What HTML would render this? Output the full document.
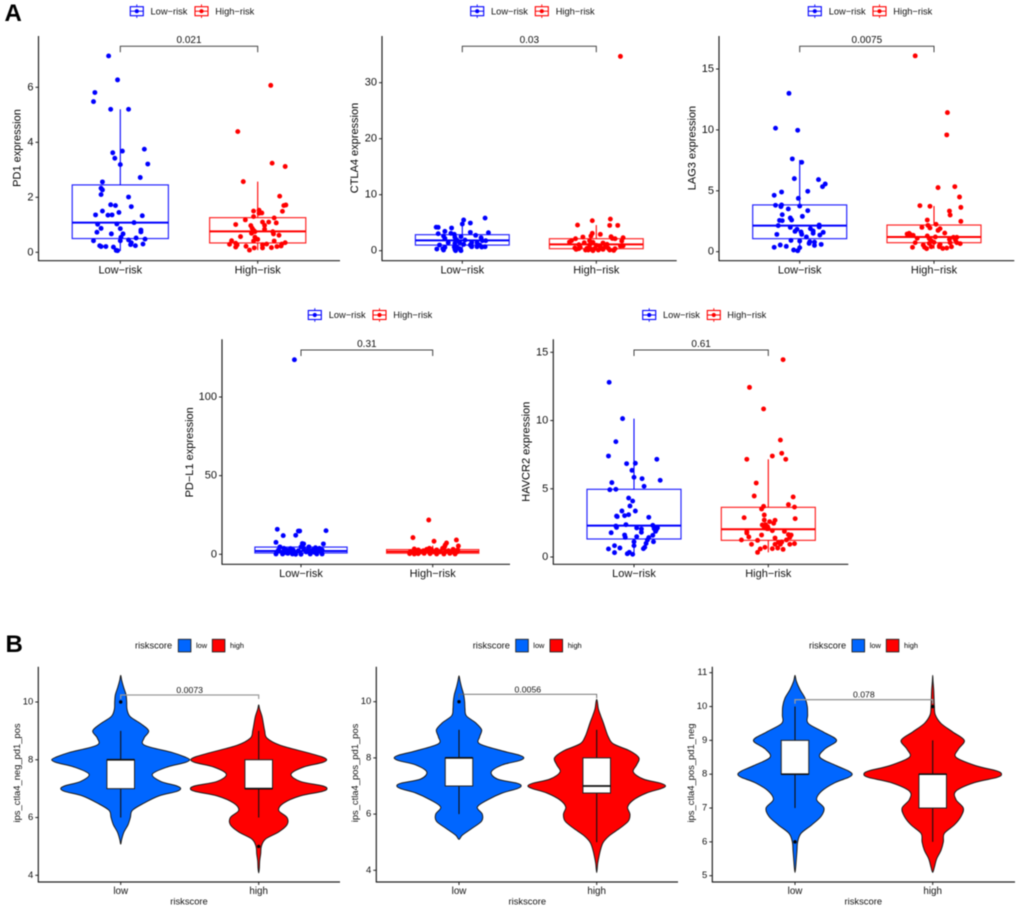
<!DOCTYPE html>
<html lang="en">
<head>
<meta charset="utf-8">
<title>Immune checkpoint expression by risk group</title>
<style>
  html, body { margin: 0; padding: 0; background: #fff; }
  #figure { display: block; width: 1020px; height: 909px; filter: blur(0.45px); font-family: "Liberation Sans", sans-serif; }
  .leg { font-size: 9.3px; fill: #111; dominant-baseline: central; }
  .ytitle { font-size: 11px; fill: #000; text-anchor: middle; dominant-baseline: central; }
  .ytitle-b { font-size: 9.4px; fill: #111; text-anchor: middle; dominant-baseline: central; }
  .xtitle-b { font-size: 9.4px; fill: #111; text-anchor: middle; dominant-baseline: central; }
  .legb { font-size: 9.3px; fill: #111; dominant-baseline: central; }
  .legs { font-size: 7.4px; fill: #000; dominant-baseline: central; }
  .letter { font-size: 24px; font-weight: bold; fill: #000; }
</style>
</head>
<body>
<svg id="figure" xmlns="http://www.w3.org/2000/svg" width="1020" height="909" viewBox="0 0 1020 909">
  <defs>
    <g id="key-blue">
      <line x1="6.5" y1="-2.3" x2="6.5" y2="11.3" stroke="#0000ff" stroke-width="0.9"/>
      <rect x="0" y="0" width="13" height="9" fill="#fff" stroke="#0000ff" stroke-width="1.1"/>
      <line x1="0" y1="4.5" x2="13" y2="4.5" stroke="#0000ff" stroke-width="1"/>
      <circle cx="6.5" cy="4.5" r="2.1" fill="#0000ff"/>
    </g>
    <g id="key-red">
      <line x1="6.5" y1="-2.3" x2="6.5" y2="11.3" stroke="#ff0000" stroke-width="0.9"/>
      <rect x="0" y="0" width="13" height="9" fill="#fff" stroke="#ff0000" stroke-width="1.1"/>
      <line x1="0" y1="4.5" x2="13" y2="4.5" stroke="#ff0000" stroke-width="1"/>
      <circle cx="6.5" cy="4.5" r="2.1" fill="#ff0000"/>
    </g>
  </defs>

  <text class="letter" x="4.5" y="20.9">A</text>
  <text class="letter" x="5.5" y="651.9">B</text>

  <g>
    <use href="#key-blue" x="130.3" y="6.7"/>
    <text class="leg" x="150.5" y="11.5">Low−risk</text>
    <use href="#key-red" x="195" y="6.7"/>
    <text class="leg" x="215.3" y="11.5">High−risk</text>
  </g>
  <g>
    <use href="#key-blue" x="470.7" y="6.7"/>
    <text class="leg" x="491" y="11.5">Low−risk</text>
    <use href="#key-red" x="535.3" y="6.7"/>
    <text class="leg" x="555.7" y="11.5">High−risk</text>
  </g>
  <g>
    <use href="#key-blue" x="808.3" y="6.7"/>
    <text class="leg" x="828.7" y="11.5">Low−risk</text>
    <use href="#key-red" x="873" y="6.7"/>
    <text class="leg" x="893.3" y="11.5">High−risk</text>
  </g>
  <g>
    <use href="#key-blue" x="308.3" y="310.5"/>
    <text class="leg" x="328.7" y="315">Low−risk</text>
    <use href="#key-red" x="373" y="310.5"/>
    <text class="leg" x="393.3" y="315">High−risk</text>
  </g>
  <g>
    <use href="#key-blue" x="642.7" y="310.5"/>
    <text class="leg" x="663" y="315">Low−risk</text>
    <use href="#key-red" x="707.3" y="310.5"/>
    <text class="leg" x="727.3" y="315">High−risk</text>
  </g>

  <g>
    <text class="legb" x="135" y="645.7">riskscore</text>
    <rect x="178.3" y="639.3" width="12.6" height="12.6" fill="#0066ff" stroke="#222" stroke-width="0.9"/>
    <text class="legs" x="196" y="645.7">low</text>
    <rect x="212.3" y="639.3" width="12.6" height="12.6" fill="#ff0000" stroke="#222" stroke-width="0.9"/>
    <text class="legs" x="230" y="645.7">high</text>
  </g>
  <g>
    <text class="legb" x="472.7" y="645.7">riskscore</text>
    <rect x="515.7" y="639.3" width="12.6" height="12.6" fill="#0066ff" stroke="#222" stroke-width="0.9"/>
    <text class="legs" x="533.3" y="645.7">low</text>
    <rect x="550" y="639.3" width="12.6" height="12.6" fill="#ff0000" stroke="#222" stroke-width="0.9"/>
    <text class="legs" x="567.7" y="645.7">high</text>
  </g>
  <g>
    <text class="legb" x="809" y="645.7">riskscore</text>
    <rect x="852" y="639.3" width="12.6" height="12.6" fill="#0066ff" stroke="#222" stroke-width="0.9"/>
    <text class="legs" x="869.7" y="645.7">low</text>
    <rect x="886.3" y="639.3" width="12.6" height="12.6" fill="#ff0000" stroke="#222" stroke-width="0.9"/>
    <text class="legs" x="904" y="645.7">high</text>
  </g>

  <text class="ytitle" transform="rotate(-90 17.5 148)" x="17.5" y="148">PD1 expression</text>
  <text class="ytitle" transform="rotate(-90 355 148)" x="355" y="148">CTLA4 expression</text>
  <text class="ytitle" transform="rotate(-90 692.7 148)" x="692.7" y="148">LAG3 expression</text>
  <text class="ytitle" transform="rotate(-90 190 452.3)" x="190" y="452.3">PD−L1 expression</text>
  <text class="ytitle" transform="rotate(-90 526.7 451.7)" x="526.7" y="451.7">HAVCR2 expression</text>

  <text class="ytitle-b" transform="rotate(-90 16.7 773)" x="16.7" y="773">ips_ctla4_neg_pd1_pos</text>
  <text class="ytitle-b" transform="rotate(-90 354.7 773)" x="354.7" y="773">ips_ctla4_pos_pd1_pos</text>
  <text class="ytitle-b" transform="rotate(-90 690.7 773)" x="690.7" y="773">ips_ctla4_pos_pd1_neg</text>
  <text class="xtitle-b" x="189" y="901">riskscore</text>
  <text class="xtitle-b" x="527.3" y="901">riskscore</text>
  <text class="xtitle-b" x="863.3" y="901">riskscore</text>

  <g id="marks"></g>
</svg>

<script>
// ---------- Category and tick labels ----------
const boxCategories = ['Low−risk', 'High−risk'];
const violinCategories = ['low', 'high'];
const pd1Ticks = [0, 2, 4, 6];
const ctla4Ticks = [0, 10, 20, 30];
const lag3Ticks = [0, 5, 10, 15];
const pdl1Ticks = [0, 50, 100];
const havcr2Ticks = [0, 5, 10, 15];
const violin1Ticks = [4, 6, 8, 10];
const violin2Ticks = [4, 6, 8, 10];
const violin3Ticks = [5, 6, 7, 8, 9, 10, 11];

// ---------- P values ----------
const pd1P = '0.021';
const ctla4P = '0.03';
const lag3P = '0.0075';
const pdl1P = '0.31';
const havcr2P = '0.61';
const violin1P = '0.0073';
const violin2P = '0.0056';
const violin3P = '0.078';

// ---------- Box statistics: [whisker low, q1, median, q3, whisker high] ----------
const pd1LowBox = [0.05, 0.5, 1.08, 2.45, 5.2];
const pd1HighBox = [0.08, 0.34, 0.76, 1.26, 2.57];
const ctla4LowBox = [0, 1.0, 1.85, 2.86, 4.76];
const ctla4HighBox = [0, 0.36, 1.13, 2.14, 4.58];
const lag3LowBox = [0.08, 1.07, 2.14, 3.84, 7.53];
const lag3HighBox = [0.25, 0.74, 1.21, 2.19, 3.75];
const pdl1LowBox = [0, 0.85, 2.1, 4.6, 8];
const pdl1HighBox = [0.2, 0.7, 1.7, 3, 5.5];
const havcr2LowBox = [0.2, 1.32, 2.3, 4.96, 10.14];
const havcr2HighBox = [0.34, 1.22, 2.03, 3.64, 7.16];

// ---------- Expression values, with horizontal jitter in hundredths of a category step ----------
const pd1LowValues = [7.14,6.27,5.81,5.48,5.2,5.2,3.75,3.62,3.68,3.42,3.19,3.21,2.72,2.56,2.33,2.27,2.10,2.01,1.73,1.70,1.66,1.50,1.45,1.36,1.35,1.36,1.33,1.08,1.02,1.03,0.87,0.86,0.73,0.81,0.74,0.67,0.67,0.55,0.52,0.48,0.42,0.42,0.45,0.35,0.28,0.30,0.24,0.24,0.21,0.21,0.19,0.07,0.06];
const pd1LowJitter = [-8.5,-2,-18.5,-19.5,-7,6,17.5,-5.5,1.5,-4,0,20,14.5,-13,-14,-13,-14,6,-7,-3.5,8,-13,-1,-18,-9,-6,16,10,-16.5,-2.5,-14,0,-17,15,15,-6.5,2,0.5,11.5,18,-19.5,0,6,8,7.5,16.5,11,-15,-14,-10.5,-5,-3,-2];
const pd1HighValues = [6.07,4.39,3.24,3.12,2.57,2.04,1.70,1.72,1.49,1.50,1.53,1.43,1.42,1.30,1.25,1.18,1.10,1.10,1.07,1.01,0.97,0.98,0.87,0.84,0.80,0.75,0.75,0.69,0.67,0.62,0.57,0.55,0.47,0.41,0.41,0.42,0.33,0.29,0.35,0.30,0.30,0.27,0.27,0.19,0.22,0.23,0.21,0.16,0.16,0.17,0.08];
const pd1HighJitter = [9.5,-14.5,10.5,20,-10.5,16,19,20.5,18,-3,1,3,1,-3,12,-9,3.5,8,13.5,-16,-5,5,-4,5,-3,-2,11,-4.5,11.5,15.5,-12.5,-2,0,-3,12,-19,-16,-20.5,20,17.5,6.5,3.5,-15,-16,-8.5,17,14,-2.5,3.5,10,-6];

const ctla4LowValues = [5.83,5.48,4.76,4.94,4.2,4.17,4.05,3.45,3.21,3.27,3.04,3.1,2.92,2.74,2.62,2.38,2.5,2.32,2.2,1.9,1.9,1.79,1.79,1.43,1.49,1.43,1.43,1.31,1.13,1.01,1.01,1.01,0.71,0.65,0.71,0.71,0.65,0.6,0.6,0.3,0.36,0.12,0.24,0.36,0,0];
const ctla4LowJitter = [17,1,0,6,-19.5,-18,-8,-13,19.5,6,-18,-8.5,-6,10,-14,-5.5,-1,14,-13,-4,2,17.5,15,-10.5,-2,7,11,-5.5,1,-17,6,13,17,14.5,7,11,-6,-4,-13,-19,-14.5,-14,-5.5,-2,-5,-1];
const ctla4HighValues = [34.7,5.65,5.36,4.58,4.52,4.52,3.1,2.92,2.62,2.44,2.5,2.32,2.14,2.14,2.2,1.79,1.55,1.79,1.73,1.43,1.49,1.37,1.07,1.01,0.95,1.13,0.89,0.83,0.71,0.65,0.6,0.48,0.36,0.42,0.42,0.3,0.36,0.42,0.36,0.12,0.06,0.12,0,0.12,0.24,0.12,0.24];
const ctla4HighJitter = [18,10.5,-3,-14,10,16,-3,3,-4,-10,11,20,-15.5,14,12,-18.5,-20,-5,19,-9,-2.5,5,-13,-5,0,8,20,18,3,6.5,-12,-16,-13,-7,-1,-4,4,9,14,10,13,-8,-2.5,1.5,5,-6,-15];

const lag3LowValues = [13.0,10.14,9.97,7.62,7.34,6.0,5.92,5.56,5.34,4.9,4.96,4.63,4.38,3.81,3.84,3.70,3.75,3.51,3.37,3.04,2.9,2.77,2.6,2.57,2.55,2.19,2.14,2.03,2.0,1.89,1.84,1.67,1.7,1.62,1.59,1.51,1.42,1.42,1.37,1.21,0.93,0.88,0.79,0.82,0.68,0.52,0.6,0.55,0.36,0.44,0.33,0.14,0.08];
const lag3LowJitter = [-8,-18,-1.5,-5.5,1.5,-4,14,19,17,-13.5,6,-19,-1,-18,-13.5,-14,0,-8.5,6,-13,2,-7,-6,-15,-13,14.5,-16,14.5,-7,8,-2,-3.5,10,1,17.5,10,1.5,-17,15,5,-6.5,0,11,7.5,7,11,16,-14.5,-19,-10,0,-4.5,-1.5];
const lag3HighValues = [16.08,11.42,9.59,5.26,5.34,4.49,3.78,3.73,3.64,3.34,3.01,2.49,2.6,2.25,2.0,2.16,1.95,1.89,1.75,1.53,1.45,1.51,1.4,1.34,1.1,1.29,1.21,1.18,1.18,1.07,1.01,0.9,0.96,0.77,0.74,0.68,0.55,0.6,0.74,0.66,0.74,0.36,0.36,0.41,0.41,0.41,0.25,0.27,0.3,0.49];
const lag3HighJitter = [-14,10,9.5,3,15.5,19,-10.5,-3,20,11.5,12,20,-5,1.5,-9,-4.5,-3,4.5,3,8,-20,-18.5,-17.5,-15.5,-12.5,-5,1,14.5,17,-3.5,11.5,-2,16,0,-14,-3.5,-8,4.5,12,19.5,17,-16,-7,-2,4,13,-5.5,6.5,9.5,4];

const pdl1LowValues = [123.7,15.9,14.8,14.8,15,11.9,12.1,7.6,6.8,6.6,6.6,4.7,3.8,3.6,4.7,4.2,3.8,4.7,3.8,3.2,2.8,2.8,2.8,2.3,2.8,2.3,2.8,1.7,1.3,1.1,1.3,1.3,1.5,1.1,1.3,1.3,0.2,0.2,0.2,0,0.2,0.2,0.2,0,0.6];
const pdl1LowJitter = [-5,-18,-2,-1,19,-13.5,-4,-19,1,2,17,-16,-13,-8,6,11,14,0,2,5.5,-17,-11,-6,-2,9,13,16,-18,-14.5,-12,-9,-4.5,4,7,10,15.5,-19,-14,-6.5,0,7,12,16,-4,-10];
const pdl1HighValues = [21.8,10.6,8.3,9.1,7.2,5.9,5.3,3.4,3.8,3.2,3.2,3.8,4.7,2.8,2.8,3.2,2.3,2.3,2.8,1.7,1.7,1.5,1.7,1.5,1.5,1.7,1.5,1.5,0.4,0.2,0.4,0.6,0.4,0.2,0.2,0.6,0.2];
const pdl1HighJitter = [-3,-15,1,18,10.5,9.5,19.5,-14,-2.5,-4.5,-1,7.5,9,-11,3,15.5,-7,12,19,-17,-12,-9,-3,0.5,5.5,10,15,18.5,-17.5,-14,-11,-6.5,-2,3,8.5,13,17];

const havcr2LowValues = [12.8,10.14,8.45,7.4,7.16,6.84,6.87,6.35,5.84,5.74,5.62,5.45,5.18,4.93,4.96,4.32,4.1,3.74,3.37,3.37,3.1,3.03,3.0,2.96,2.91,2.37,2.27,2.32,2.17,2.13,2.05,2.13,2.08,1.98,1.88,1.81,1.78,1.61,1.44,1.49,1.59,1.42,1.25,1.12,1.12,1.0,0.83,0.83,0.71,0.66,0.59,0.61,0.32,0.24,0.34,0.2];
const havcr2LowJitter = [-18.5,-8.5,-13.5,-19,17,-5.5,1,-1.5,0,6,19.5,-16.5,7.5,-18,-13.5,-4,-1,-3,-9,1,-4,-7,-13,-12.5,11,-6,-13.5,14,-13,2,5.5,17.5,15,16.5,16,5.5,-17,-7,-6.5,2,14,11,10,0,14.5,9,0,-14.5,8,-10.5,-19,7,-14.5,-5,-3.5,-1];
const havcr2HighValues = [14.46,12.43,10.85,8.57,7.6,7.4,7.16,7.16,5.42,4.47,4.4,3.84,3.66,3.71,3.52,3.08,2.88,2.81,2.71,2.69,2.59,2.47,2.35,2.37,2.22,2.13,2.08,2.08,1.93,1.86,1.88,1.76,1.61,1.47,1.64,1.61,1.44,1.39,1.25,1.22,1.25,1.1,1.07,0.93,0.93,0.93,0.98,0.93,0.71,0.59,0.61,0.66,0.56,0.34];
const havcr2HighJitter = [11,-14,-3.5,9,10,3,-16,13,-9,-10.5,18.5,15,19.5,-3.5,-5,-3,-18,20,-3,5,1,4,-4.5,-2,-0.5,-3,-1,0,3,-16,12,-16,-5,-14.5,15,17,16,5,-20,-8,13.5,10,7.5,5,9,-12.5,19.5,16,-2.5,-6,3,7,11,-8];

// ---------- Violin profiles: value grid and density read at each grid value ----------
const v1LowGrid = [5.08,5.25,5.5,5.75,6,6.25,6.5,6.75,6.9,7,7.1,7.25,7.5,7.75,7.9,8,8.1,8.25,8.5,8.75,9,9.25,9.5,9.75,10,10.25,10.5,10.75,10.92];
const v1LowDensity = [0,3,10,22,29,35,70,115,167,180,167,120,95,140,192,207,192,155,72,70,84,60,28,19,18,16,9,3,0];
const v1HighGrid = [4.08,4.25,4.5,4.75,5,5.25,5.5,5.75,6,6.25,6.5,6.75,6.9,7,7.1,7.25,7.5,7.75,7.9,8,8.1,8.25,8.5,8.75,9,9.25,9.5,9.75,9.9];
const v1HighDensity = [0,2,3,6,8,20,60,85,85,60,75,125,190,205,190,125,97,135,190,204,190,145,65,25,18,14,10,3,0];
const v1LowBox = [6, 7, 8, 8, 9];
const v1HighBox = [6, 7, 7, 8, 9];
const v1LowOutliers = [10];
const v1HighOutliers = [5];

const v2LowGrid = [5.1,5.25,5.5,5.75,6,6.25,6.5,6.75,6.9,7,7.1,7.25,7.5,7.75,7.9,8,8.1,8.25,8.5,8.75,9,9.25,9.5,9.75,10,10.25,10.5,10.75,10.92];
const v2LowDensity = [0,10,40,68,70,55,85,130,174,187,174,115,97,130,181,195,181,130,62,62,68,50,22,18,17,14,8,3,0];
const v2HighGrid = [3.92,4.25,4.5,4.75,5,5.25,5.5,5.75,6,6.25,6.5,6.75,6.9,7,7.1,7.25,7.5,7.75,8,8.25,8.5,8.75,9,9.25,9.5,9.75,10,10.08];
const v2HighDensity = [0,3,7,12,20,40,70,95,100,93,110,150,192,207,192,140,110,120,127,100,50,35,27,20,12,5,2,0];
const v2LowBox = [6, 7, 8, 8, 9];
const v2HighBox = [5, 6.75, 7, 8, 9];
const v2LowOutliers = [10];
const v2HighOutliers = [];

const v3LowGrid = [5.1,5.25,5.5,5.75,6,6.25,6.5,6.75,7,7.25,7.5,7.75,7.9,8,8.1,8.25,8.5,8.75,9,9.25,9.5,9.75,10,10.25,10.5,10.75,10.92];
const v3LowDensity = [0,2,4,6,8,18,50,78,87,65,80,120,160,172,160,125,75,90,125,85,40,38,37,30,15,4,0];
const v3HighGrid = [5.1,5.25,5.5,5.75,6,6.25,6.5,6.75,7,7.25,7.5,7.75,7.9,8,8.1,8.25,8.5,8.75,9,9.25,9.5,9.75,10,10.25,10.5,10.75,10.92];
const v3HighDensity = [0,5,12,25,32,35,65,85,92,70,70,125,192,207,192,130,70,78,95,60,25,8,5,4,3,1,0];
const v3LowBox = [7, 8, 8, 9, 10];
const v3HighBox = [6, 7, 8, 8, 9];
const v3LowOutliers = [6];
const v3HighOutliers = [10];

// ---------- Panel layout (pixel frames, separate from the data above) ----------
const panelsBox = [
  { name: 'pd1', left: 38.5, right: 340, top: 36, bottom: 260.7, lowX: 120.3, highX: 257.7, v0: 0, p0: 252.3, v1: 6, p1: 87.3, bracketY: 46.3, ticks: pd1Ticks, p: pd1P,
    low: [pd1LowValues, pd1LowJitter, pd1LowBox], high: [pd1HighValues, pd1HighJitter, pd1HighBox] },
  { name: 'ctla4', left: 382, right: 676.7, top: 36, bottom: 260.7, lowX: 462.3, highX: 596.3, v0: 0, p0: 250.7, v1: 30, p1: 82.7, bracketY: 46.3, ticks: ctla4Ticks, p: ctla4P,
    low: [ctla4LowValues, ctla4LowJitter, ctla4LowBox], high: [ctla4HighValues, ctla4HighJitter, ctla4HighBox] },
  { name: 'lag3', left: 719, right: 1014.3, top: 36, bottom: 260.7, lowX: 799.7, highX: 934, v0: 0, p0: 251.7, v1: 15, p1: 69, bracketY: 46.3, ticks: lag3Ticks, p: lag3P,
    low: [lag3LowValues, lag3LowJitter, lag3LowBox], high: [lag3HighValues, lag3HighJitter, lag3HighBox] },
  { name: 'pd-l1', left: 222, right: 510, top: 339.3, bottom: 564.3, lowX: 301, highX: 432.7, v0: 0, p0: 554.3, v1: 100, p1: 397, bracketY: 350, ticks: pdl1Ticks, p: pdl1P,
    low: [pdl1LowValues, pdl1LowJitter, pdl1LowBox], high: [pdl1HighValues, pdl1HighJitter, pdl1HighBox] },
  { name: 'havcr2', left: 553.3, right: 848.3, top: 339.3, bottom: 564.3, lowX: 634, highX: 768.3, v0: 0, p0: 557, v1: 15, p1: 352.3, bracketY: 350, ticks: havcr2Ticks, p: havcr2P,
    low: [havcr2LowValues, havcr2LowJitter, havcr2LowBox], high: [havcr2HighValues, havcr2HighJitter, havcr2HighBox] }
];
const panelsViolin = [
  { name: 'violin-1', left: 38.3, right: 340, top: 666.7, bottom: 882, lowX: 120.7, highX: 258.7, v0: 4, p0: 875.3, v1: 10, p1: 702, bracketY: 695, ticks: violin1Ticks, p: violin1P,
    bracketStroke: '#9a9a9a', bracketWidth: 1.2,
    low: [v1LowGrid, v1LowDensity, v1LowBox, v1LowOutliers], high: [v1HighGrid, v1HighDensity, v1HighBox, v1HighOutliers] },
  { name: 'violin-2', left: 376.3, right: 678, top: 666.7, bottom: 882, lowX: 459, highX: 596.7, v0: 4, p0: 870.3, v1: 10, p1: 701.7, bracketY: 694.3, ticks: violin2Ticks, p: violin2P,
    bracketStroke: '#666', bracketWidth: 0.9,
    low: [v2LowGrid, v2LowDensity, v2LowBox, v2LowOutliers], high: [v2HighGrid, v2HighDensity, v2HighBox, v2HighOutliers] },
  { name: 'violin-3', left: 712.3, right: 1015, top: 666.7, bottom: 882, lowX: 795, highX: 932.7, v0: 5, p0: 875.7, v1: 11, p1: 672.7, bracketY: 699.7, ticks: violin3Ticks, p: violin3P,
    bracketStroke: '#9a9a9a', bracketWidth: 1.3,
    low: [v3LowGrid, v3LowDensity, v3LowBox, v3LowOutliers], high: [v3HighGrid, v3HighDensity, v3HighBox, v3HighOutliers] }
];

const SVG_NS = 'http://www.w3.org/2000/svg';
const root = document.getElementById('marks');

function make(tag, attrs, parent) {
  const el = document.createElementNS(SVG_NS, tag);
  for (const k in attrs) el.setAttribute(k, attrs[k]);
  parent.appendChild(el);
  return el;
}

function yScale(f) {
  return function (v) { return f.p0 + (v - f.v0) * (f.p1 - f.p0) / (f.v1 - f.v0); };
}

function drawAxes(f, group, cats, tickSize, catSize) {
  const y = yScale(f);
  const yAxis = make('line', { x1: f.left, x2: f.left, y1: f.top, y2: f.bottom, stroke: '#222', 'stroke-width': 1.2 }, group);
  
  
  const xAxis = make('line', { x1: f.left - 0.5, x2: f.right, y1: f.bottom, y2: f.bottom, stroke: '#222', 'stroke-width': 1.2 }, group);
  
  
  f.ticks.forEach(function (t) {
    const mark = make('line', { x1: f.left - 3, x2: f.left, y1: y(t), y2: y(t), stroke: '#222', 'stroke-width': 1 }, group);
    
    
    const label = make('text', { x: f.left - 5, y: y(t), 'text-anchor': 'end', 'dominant-baseline': 'central', 'font-size': tickSize, fill: '#111' }, group);
    label.textContent = String(t);
    
    
  });
  [f.lowX, f.highX].forEach(function (cx, i) {
    const mark = make('line', { x1: cx, x2: cx, y1: f.bottom, y2: f.bottom + 3, stroke: '#222', 'stroke-width': 1 }, group);
    
    
    const label = make('text', { x: cx, y: f.bottom + 9.7, 'text-anchor': 'middle', 'dominant-baseline': 'central', 'font-size': catSize, fill: '#111' }, group);
    label.textContent = cats[i];
    
    
  });
}

function drawBracket(f, group, stroke, width, tip, fontSize, gap) {
  const d = 'M' + f.lowX + ' ' + (f.bracketY + tip) + 'V' + f.bracketY + 'H' + f.highX + 'V' + (f.bracketY + tip);
  const path = make('path', { d: d, fill: 'none', stroke: stroke, 'stroke-width': width }, group);
  
  
  const label = make('text', { x: (f.lowX + f.highX) / 2, y: f.bracketY - gap, 'text-anchor': 'middle', 'dominant-baseline': 'central', 'font-size': fontSize, fill: '#111' }, group);
  label.textContent = f.p;
  
  
}

function drawBoxGroup(f, group, series, cx, color, groupName) {
  const y = yScale(f);
  const step = f.highX - f.lowX;
  const half = 0.35 * step;
  const values = series[0];
  const jitter = series[1];
  const box = series[2];
  const g = make('g', {}, group);
  
  

  const whiskerTop = make('line', { x1: cx, x2: cx, y1: y(box[3]), y2: y(box[4]), stroke: color, 'stroke-width': 1.1 }, g);
  
  
  const whiskerLow = make('line', { x1: cx, x2: cx, y1: y(box[1]), y2: y(box[0]), stroke: color, 'stroke-width': 1.1 }, g);
  
  
  const rect = make('rect', { x: cx - half, width: 2 * half, y: y(box[3]), height: y(box[1]) - y(box[3]), fill: 'none', stroke: color, 'stroke-width': 1.2, 'stroke-opacity': 0.85 }, g);
  
  
  const median = make('line', { x1: cx - half, x2: cx + half, y1: y(box[2]), y2: y(box[2]), stroke: color, 'stroke-width': 2 }, g);
  
  

  values.forEach(function (v, i) {
    const dot = make('circle', { cx: cx + jitter[i] / 100 * step, cy: y(v), r: 2.45, fill: color }, g);
    
    
  });
}

function violinPath(points) {
  let d = 'M' + points[0][0].toFixed(2) + ' ' + points[0][1].toFixed(2);
  const n = points.length;
  for (let i = 0; i < n; i++) {
    const p0 = points[(i - 1 + n) % n];
    const p1 = points[i];
    const p2 = points[(i + 1) % n];
    const p3 = points[(i + 2) % n];
    const c1x = p1[0] + (p2[0] - p0[0]) / 6;
    const c1y = p1[1] + (p2[1] - p0[1]) / 6;
    const c2x = p2[0] - (p3[0] - p1[0]) / 6;
    const c2y = p2[1] - (p3[1] - p1[1]) / 6;
    d += 'C' + c1x.toFixed(2) + ' ' + c1y.toFixed(2) + ' ' + c2x.toFixed(2) + ' ' + c2y.toFixed(2) + ' ' + p2[0].toFixed(2) + ' ' + p2[1].toFixed(2);
  }
  return d + 'Z';
}

function drawViolinGroup(f, group, series, cx, color, groupName) {
  const y = yScale(f);
  const step = f.highX - f.lowX;
  const grid = series[0];
  const density = series[1];
  const box = series[2];
  const outliers = series[3];
  const widthFor = function (d) { return d / 207 * 0.5 * step; };
  const pts = [];
  grid.forEach(function (v, i) { pts.push([cx + widthFor(density[i]), y(v)]); });
  for (let i = grid.length - 2; i > 0; i--) pts.push([cx - widthFor(density[i]), y(grid[i])]);

  const g = make('g', {}, group);
  
  

  const shape = make('path', { d: violinPath(pts), fill: color, stroke: '#1a1a1a', 'stroke-width': 1 }, g);
  
  
  const whisker = make('line', { x1: cx, x2: cx, y1: y(box[0]), y2: y(box[4]), stroke: '#111', 'stroke-width': 1.1 }, g);
  
  
  const half = 0.1 * step;
  const rect = make('rect', { x: cx - half, width: 2 * half, y: y(box[3]), height: y(box[1]) - y(box[3]), fill: '#fff', stroke: '#222', 'stroke-width': 1 }, g);
  
  
  const median = make('line', { x1: cx - half, x2: cx + half, y1: y(box[2]), y2: y(box[2]), stroke: '#111', 'stroke-width': 1.7 }, g);
  
  
  outliers.forEach(function (v) {
    const dot = make('circle', { cx: cx, cy: y(v), r: 1.7, fill: '#000' }, g);
    
    
  });
}

panelsBox.forEach(function (f) {
  const group = make('g', {}, root);
  
  
  drawBoxGroup(f, group, f.low, f.lowX, '#0000ff', 'low-risk');
  drawBoxGroup(f, group, f.high, f.highX, '#ff0000', 'high-risk');
  drawAxes(f, group, boxCategories, 11, 11);
  drawBracket(f, group, '#444', 1, 6, 10, 5.6);
});

panelsViolin.forEach(function (f) {
  const group = make('g', {}, root);
  
  
  drawViolinGroup(f, group, f.low, f.lowX, '#0066ff', 'low');
  drawViolinGroup(f, group, f.high, f.highX, '#ff0000', 'high');
  drawAxes(f, group, violinCategories, 9.5, 9.8);
  drawBracket(f, group, f.bracketStroke, f.bracketWidth, 4, 8.7, 5);
});
</script>
</body>
</html>
